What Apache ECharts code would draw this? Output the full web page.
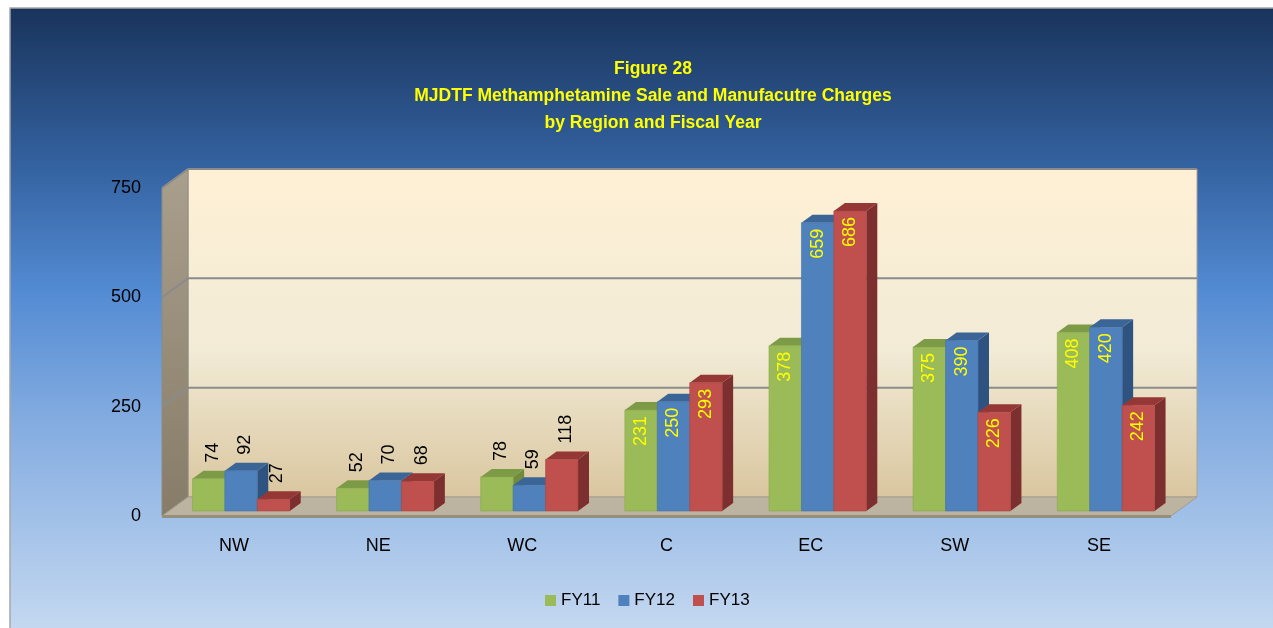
<!DOCTYPE html>
<html>
<head>
<meta charset="utf-8">
<script src="https://cdn.jsdelivr.net/npm/echarts@6/dist/echarts.min.js"></script>
<style>
  html, body { margin: 0; padding: 0; background: #fff; }
  #main { width: 1273px; height: 628px; }
</style>
</head>
<body>
<div id="main"></div>
<script>
// data
const regions = ['NW', 'NE', 'WC', 'C', 'EC', 'SW', 'SE'];
const fy11 = [74, 52, 78, 231, 378, 375, 408];
const fy12 = [92, 70, 59, 250, 659, 390, 420];
const fy13 = [27, 68, 118, 293, 686, 226, 242];
const seriesNames = ['FY11', 'FY12', 'FY13'];
const yTicks = [0, 250, 500, 750];

// colours of the three faces of each bar
const faces = [
  { front: '#9bbb59', side: '#6f8b3b', top: '#7d9b46', edge: '#8aa94d' },
  { front: '#4f81bd', side: '#2f5381', top: '#3c6597', edge: '#4573aa' },
  { front: '#c0504d', side: '#7c2f2e', top: '#953735', edge: '#ab4744' }
];

const WALL_DX = 26, WALL_DY = -19;   // depth of the box (walls)
const BAR_DX = 11, BAR_DY = -8;      // depth of a bar
const SHIFT_X = 7, SHIFT_Y = -5;     // bars stand a little behind the front edge

const chart = echarts.init(document.getElementById('main'));

function wallRenderer(params, api) {
  const cs = params.coordSys;
  const xl = cs.x, xr = cs.x + cs.width, yt = cs.y, yb = cs.y + cs.height;
  const kids = [];
  // back wall
  kids.push({
    type: 'rect',
    shape: { x: xl + WALL_DX, y: yt + WALL_DY, width: xr - xl, height: yb - yt },
    style: {
      fill: new echarts.graphic.LinearGradient(0, 0, 0, 1, [
        { offset: 0, color: '#fef0d5' },
        { offset: 0.55, color: '#f2ebd6' },
        { offset: 1, color: '#d9c69f' }
      ]),
      stroke: '#a9a39a', lineWidth: 1
    }
  });
  // left wall
  kids.push({
    type: 'polygon',
    shape: { points: [[xl, yt], [xl + WALL_DX, yt + WALL_DY], [xl + WALL_DX, yb + WALL_DY], [xl, yb]] },
    style: {
      fill: new echarts.graphic.LinearGradient(0, 0, 0, 1, [
        { offset: 0, color: '#a99f8d' },
        { offset: 1, color: '#877c67' }
      ]),
      stroke: '#8e8a82', lineWidth: 1
    }
  });
  // grid lines on the back and left walls
  yTicks.forEach(function (v) {
    if (v === 0) return;
    const y = api.coord([0, v])[1];
    kids.push({ type: 'line', shape: { x1: xl + WALL_DX, y1: y + WALL_DY, x2: xr + WALL_DX, y2: y + WALL_DY },
      style: { stroke: '#8b8b8b', lineWidth: 2 } });
    kids.push({ type: 'line', shape: { x1: xl, y1: y, x2: xl + WALL_DX, y2: y + WALL_DY },
      style: { stroke: '#8b8b8b', lineWidth: 2 } });
  });
  // floor
  kids.push({
    type: 'polygon',
    shape: { points: [[xl, yb], [xr, yb], [xr + WALL_DX, yb + WALL_DY], [xl + WALL_DX, yb + WALL_DY]] },
    style: { fill: '#bcb3a0', stroke: '#a39c8c', lineWidth: 1 }
  });
  kids.push({
    type: 'rect',
    shape: { x: xl, y: yb - 1, width: xr - xl, height: 3 },
    style: { fill: '#968f7e' }
  });
  return { type: 'group', children: kids };
}

function barRenderer(sIdx) {
  return function (params, api) {
    const cat = api.value(0), val = api.value(1);
    const base = api.coord([cat, 0]);
    const topPt = api.coord([cat, val]);
    const band = api.size([1, 0])[0];
    const w = band * 0.225;
    const x0 = base[0] - 1.5 * w + sIdx * w + SHIFT_X;
    const x1 = x0 + w;
    const yb = base[1] + SHIFT_Y;
    const yt = topPt[1] + SHIFT_Y;
    const c = faces[sIdx];
    const inside = val > 150;
    return {
      type: 'group',
      children: [
        { type: 'polygon', shape: { points: [[x1, yb], [x1 + BAR_DX, yb + BAR_DY], [x1 + BAR_DX, yt + BAR_DY], [x1, yt]] },
          style: { fill: c.side } },
        { type: 'polygon', shape: { points: [[x0, yt], [x1, yt], [x1 + BAR_DX, yt + BAR_DY], [x0 + BAR_DX, yt + BAR_DY]] },
          style: { fill: c.top } },
        { type: 'rect', shape: { x: x0, y: yt, width: w, height: yb - yt },
          style: { fill: c.front, stroke: c.edge, lineWidth: 0.6 } },
        { type: 'text', x: (x0 + x1) / 2 + (inside ? 0 : 4), y: inside ? yt + 6 : yt + BAR_DY - 8, rotation: Math.PI / 2,
          style: { text: String(val), fill: inside ? '#ffff00' : '#000000',
            font: '18px "Liberation Sans"', align: inside ? 'right' : 'left', verticalAlign: 'middle' } }
      ]
    };
  };
}

const values = [fy11, fy12, fy13];
const barSeries = values.map(function (arr, i) {
  return {
    name: seriesNames[i],
    type: 'custom',
    renderItem: barRenderer(i),
    itemStyle: { color: faces[i].front },
    encode: { x: 0, y: 1 },
    data: arr.map(function (v, k) { return [k, v]; }),
    z: 3 + i
  };
});

chart.setOption({
  animation: false,
  graphic: [
    {
      type: 'rect', z: 0,
      shape: { x: 10, y: 8, width: 1275, height: 630 },
      style: {
        fill: new echarts.graphic.LinearGradient(0, 0, 0, 1, [
          { offset: 0, color: '#19335b' },
          { offset: 0.25, color: '#3462a0' },
          { offset: 0.45, color: '#538bd3' },
          { offset: 0.65, color: '#82abe0' },
          { offset: 1, color: '#c7daf1' }
        ]),
        stroke: '#a6a6a6', lineWidth: 1.5
      }
    },
    {
      type: 'text', z: 10, x: 653, y: 56,
      style: {
        text: 'Figure 28\nMJDTF Methamphetamine Sale and Manufacutre Charges\nby Region and Fiscal Year',
        fill: '#ffff00', font: 'bold 17.5px "Liberation Sans"', align: 'center', verticalAlign: 'top', lineHeight: 27
      }
    }
  ],
  legend: {
    data: seriesNames,
    left: 540, top: 587,
    icon: 'rect', itemWidth: 11, itemHeight: 11, itemGap: 18,
    textStyle: { color: '#000', fontSize: 17, fontFamily: 'Liberation Sans' }
  },
  grid: { left: 162, right: 102, top: 188, bottom: 112 },
  xAxis: {
    type: 'category',
    data: regions,
    axisLine: { show: false }, axisTick: { show: false },
    axisLabel: { color: '#000', fontSize: 18, fontFamily: 'Liberation Sans', margin: 21 }
  },
  yAxis: {
    type: 'value', min: 0, max: 750, interval: 250,
    axisLine: { show: false }, axisTick: { show: false }, splitLine: { show: false },
    axisLabel: { color: '#000', fontSize: 18, fontFamily: 'Liberation Sans', margin: 21 }
  },
  series: [{
    type: 'custom', renderItem: wallRenderer, silent: true, z: 1,
    encode: { x: 0, y: 1 }, data: [[0, 0]]
  }].concat(barSeries)
});
</script>
</body>
</html>
